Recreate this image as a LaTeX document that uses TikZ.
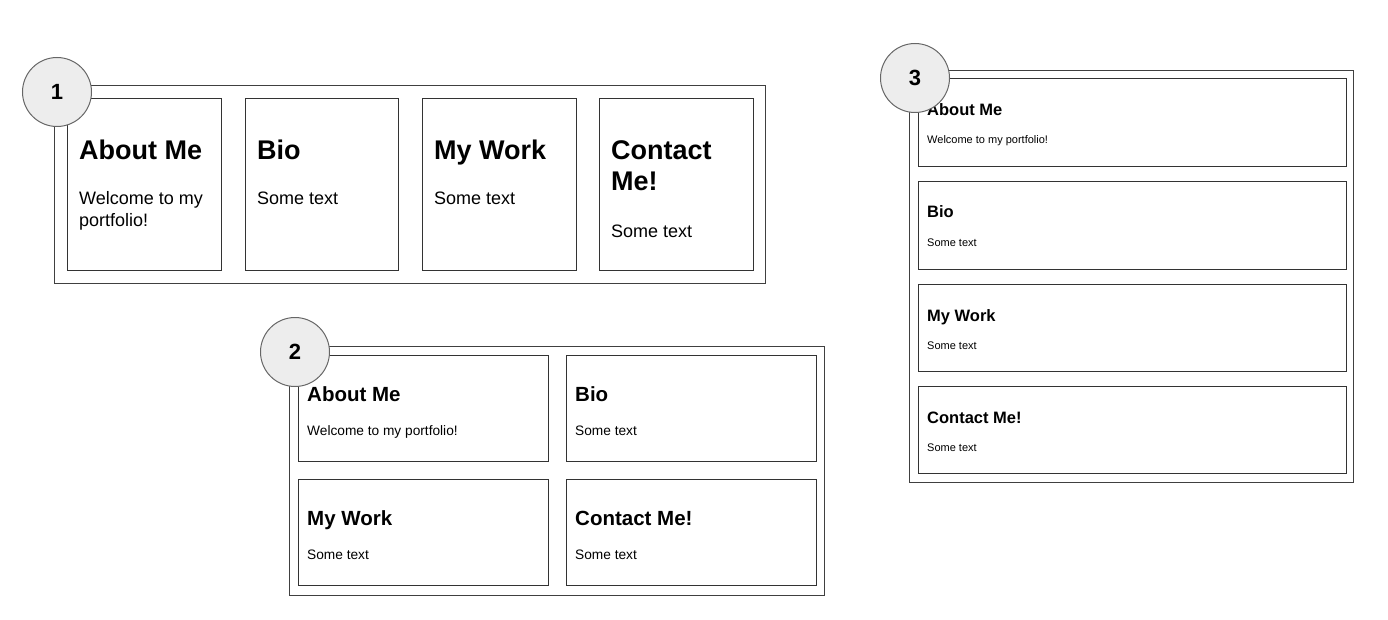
\documentclass[tikz,border=0pt]{standalone}
\usepackage{fontspec}
\setmainfont{Liberation Sans}
\begin{document}
\begin{tikzpicture}[x=1pt,y=-1pt,
  frame/.style={draw=black!75, line width=1pt},
  card/.style={draw=black!80, line width=1pt, inner sep=0pt, anchor=north west},
  badge/.style={circle, draw=black!60, line width=1pt, fill=black!7, minimum size=69pt, inner sep=0pt,
    font=\fontsize{22}{24}\selectfont\bfseries},
  ttlA/.style={anchor=base west, inner sep=0pt, font=\fontsize{27}{31}\selectfont\bfseries},
  txtA/.style={anchor=base west, inner sep=0pt, font=\fontsize{18}{21}\selectfont},
  ttlB/.style={anchor=base west, inner sep=0pt, font=\fontsize{20.5}{24}\selectfont\bfseries},
  txtB/.style={anchor=base west, inner sep=0pt, font=\fontsize{13.7}{16}\selectfont},
  ttlC/.style={anchor=base west, inner sep=0pt, font=\fontsize{16.5}{19}\selectfont\bfseries},
  txtC/.style={anchor=base west, inner sep=0pt, font=\fontsize{11}{13}\selectfont}]
\useasboundingbox (0,0) rectangle (1388,620);

% ---- layout 1: four columns in a row ----
\draw[frame] (54,86) rectangle (765,283);
\node[card, minimum width=154pt, minimum height=172pt] (a1) at (67,98) {};
\node[card, minimum width=153pt, minimum height=172pt] (a2) at (245,98) {};
\node[card, minimum width=154pt, minimum height=172pt] (a3) at (422,98) {};
\node[card, minimum width=154pt, minimum height=172pt] (a4) at (599,98) {};
\node[ttlA] (a1t) at (79,160) {About Me};
\node[txtA] (a1s) at (79,205) {Welcome to my};
\node[txtA] (a1u) at (79,226) {portfolio!};
\node[ttlA] (a2t) at (257,160) {Bio};
\node[txtA] (a2s) at (257,205) {Some text};
\node[ttlA] (a3t) at (434,160) {My Work};
\node[txtA] (a3s) at (434,205) {Some text};
\node[ttlA] (a4t) at (611,160) {Contact};
\node[ttlA] (a4u) at (611,191) {Me!};
\node[txtA] (a4s) at (611,238) {Some text};
\node[badge] (n1) at (57,92) {1};

% ---- layout 2: two by two grid ----
\draw[frame] (289,346) rectangle (824,595);
\node[card, minimum width=250pt, minimum height=106pt] (b1) at (298,355) {};
\node[card, minimum width=250pt, minimum height=106pt] (b2) at (566,355) {};
\node[card, minimum width=250pt, minimum height=106pt] (b3) at (298,479) {};
\node[card, minimum width=250pt, minimum height=106pt] (b4) at (566,479) {};
\node[ttlB] (b1t) at (307,401) {About Me};
\node[txtB] (b1s) at (307,435) {Welcome to my portfolio!};
\node[ttlB] (b2t) at (575,401) {Bio};
\node[txtB] (b2s) at (575,435) {Some text};
\node[ttlB] (b3t) at (307,525) {My Work};
\node[txtB] (b3s) at (307,559) {Some text};
\node[ttlB] (b4t) at (575,525) {Contact Me!};
\node[txtB] (b4s) at (575,559) {Some text};
\node[badge] (n2) at (295,352) {2};

% ---- layout 3: single stacked column ----
\draw[frame] (909,71) rectangle (1353,482);
\node[card, minimum width=428pt, minimum height=88pt] (c1) at (918,78) {};
\node[card, minimum width=428pt, minimum height=88pt] (c2) at (918,181) {};
\node[card, minimum width=428pt, minimum height=87pt] (c3) at (918,284) {};
\node[card, minimum width=428pt, minimum height=87pt] (c4) at (918,386) {};
\node[ttlC] (c1t) at (927,116) {About Me};
\node[txtC] (c1s) at (927,144) {Welcome to my portfolio!};
\node[ttlC] (c2t) at (927,218) {Bio};
\node[txtC] (c2s) at (927,247) {Some text};
\node[ttlC] (c3t) at (927,321) {My Work};
\node[txtC] (c3s) at (927,349) {Some text};
\node[ttlC] (c4t) at (927,423) {Contact Me!};
\node[txtC] (c4s) at (927,451) {Some text};
\node[badge] (n3) at (915,78) {3};
\end{tikzpicture}
\end{document}
